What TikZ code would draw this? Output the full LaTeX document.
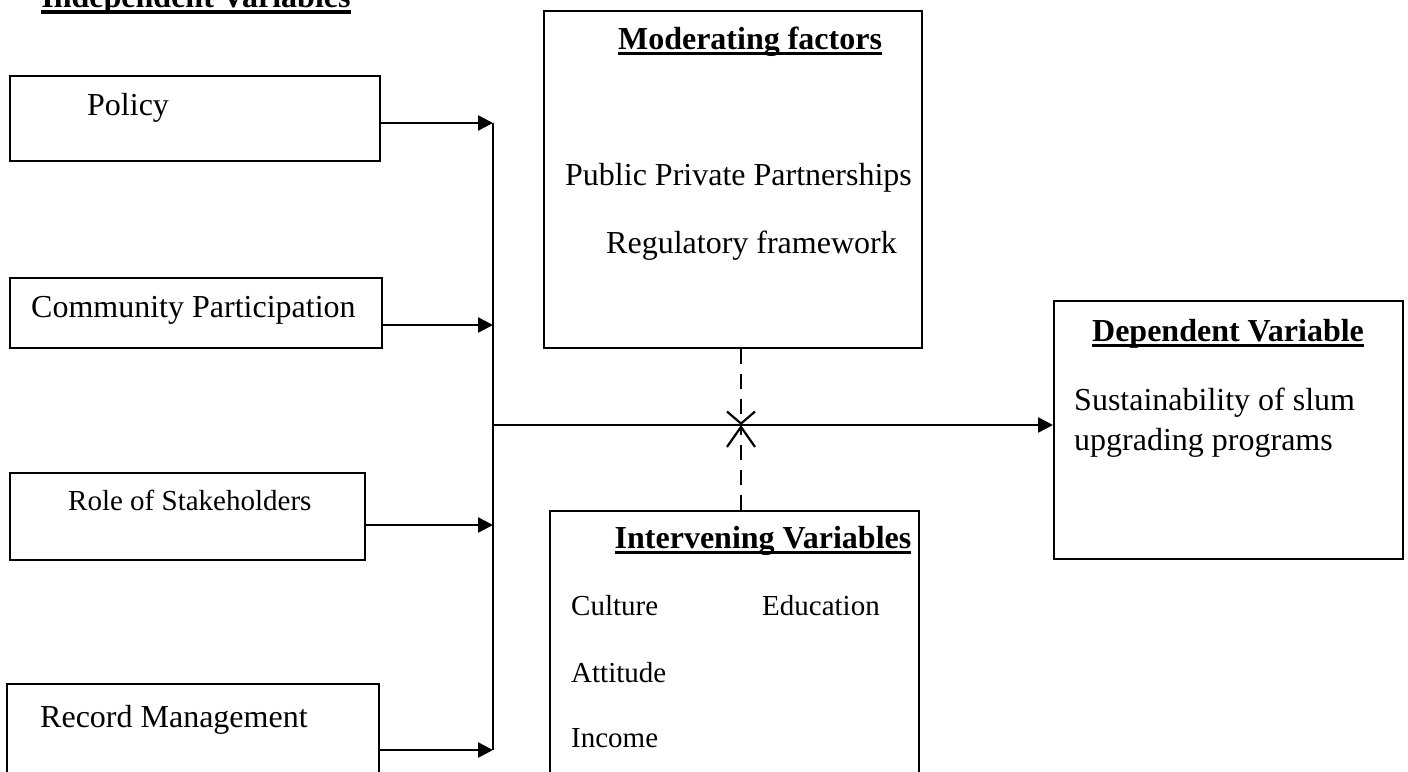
\documentclass[tikz,border=0pt]{standalone}
\usepackage{fontspec}
\setmainfont{Liberation Serif}
\usetikzlibrary{arrows.meta}
\newlength\titlewd
\newcommand\undertitle[1]{\settowidth\titlewd{#1}\rlap{\rule[-6pt]{\titlewd}{3.5pt}}#1}

\begin{document}
\begin{tikzpicture}[x=1pt, y=-1pt,
  every node/.style={font=\fontsize{32}{38}\selectfont, inner sep=0pt},
  varbox/.style={draw, line width=2pt, anchor=north west},
  small/.style={font=\fontsize{29}{35}\selectfont},
  title/.style={font=\fontsize{32}{38}\selectfont\bfseries, anchor=base},
  flow/.style={line width=2.6pt, -{Triangle[length=15pt,width=15pt]}},
  moderate/.style={line width=2.2pt, dash pattern=on 15pt off 10pt}]
  \useasboundingbox (0,0) rectangle (1408,771);
  % Independent
  \node[title] (indep) at (196,8) {\undertitle{Independent Variables}};
  \node[varbox, minimum width=370pt, minimum height=85pt] (pol) at (9,75) {};
  \node[varbox, minimum width=372pt, minimum height=70pt] (com) at (9,277) {};
  \node[varbox, minimum width=355pt, minimum height=87pt] (rol) at (9,472) {};
  \node[varbox, minimum width=372pt, minimum height=120pt] (rec) at (6,683) {};
  \node[anchor=base west] (pol-txt) at (87,115) {Policy};
  \node[anchor=base west] (com-txt) at (31,317) {Community Participation};
  \node[small, anchor=base west] (rol-txt) at (68,510) {Role of Stakeholders};
  \node[anchor=base west] (rec-txt) at (40,727) {Record Management};
  % Moderating
  \node[varbox, minimum width=378pt, minimum height=337pt] (mod) at (543,10) {};
  \node[title] (mod-title) at (750,49) {\undertitle{Moderating factors}};
  \node[anchor=base west] (ppp) at (565,185) {Public Private Partnerships};
  \node[anchor=base west] (reg) at (606,253) {Regulatory framework};
  % Intervening
  \node[varbox, minimum width=369pt, minimum height=300pt] (int) at (549,510) {};
  \node[title] (int-title) at (763,548) {\undertitle{Intervening Variables}};
  \node[small, anchor=base west] (cul) at (571,615) {Culture};
  \node[small, anchor=base west] (edu) at (762,615) {Education};
  \node[small, anchor=base west] (att) at (571,682) {Attitude};
  \node[small, anchor=base west] (inc) at (571,747) {Income};
  % Dependent
  \node[varbox, minimum width=349pt, minimum height=258pt] (dep) at (1053,300) {};
  \node[title] (dep-title) at (1228,341) {\undertitle{Dependent Variable}};
  \node[anchor=base west, align=left] (sus) at (1074,450) {Sustainability of slum\\[2pt]upgrading programs};
  % Connections
  \foreach \b/\y in {pol/123, com/325, rol/525, rec/750} {
    \coordinate (in-\b) at (493,\y);
    \draw[flow] (\b.east |- in-\b) -- (in-\b);
  }
  \draw[line width=2.2pt] (in-pol) -- (in-rec);
  \coordinate (hub) at (493,425);
  \draw[flow] (hub) -- (dep.west |- hub);
  \coordinate (meet) at (741,425);
  \draw[moderate, -{Straight Barb[length=12pt,width=28pt]}] (mod.south -| meet) -- (meet);
  \draw[moderate, -{Straight Barb[length=20pt,width=28pt]}] (int.north -| meet) -- (meet);
\end{tikzpicture}
\end{document}
